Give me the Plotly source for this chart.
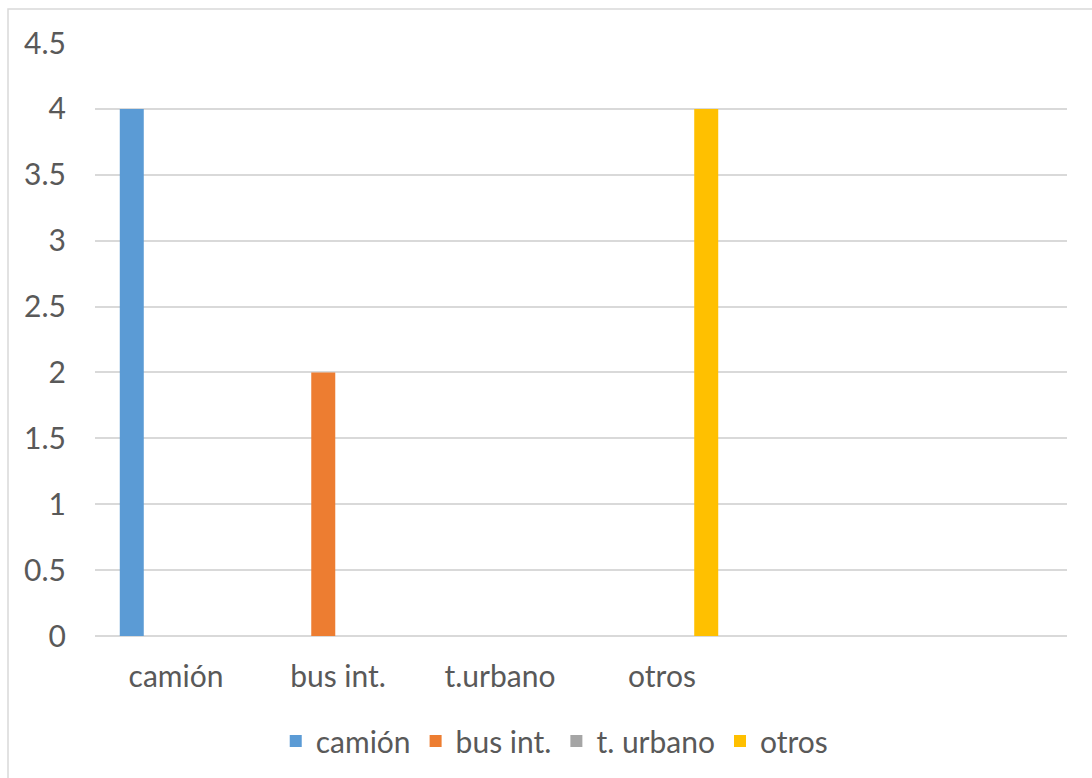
import plotly.graph_objects as go

# Category axis (the last two slots are unlabeled)
categories = ["camión", "bus int.", "t.urbano", "otros", " ", "  "]

# Series values per category
series_names = ["camión", "bus int.", "t. urbano", "otros"]
camion = [4, 0, 0, 0, 0, 0]
bus_int = [0, 2, 0, 0, 0, 0]
t_urbano = [0, 0, 0, 0, 0, 0]
otros = [0, 0, 0, 4, 0, 0]

colors = ["#5B9BD5", "#ED7D31", "#A5A5A5", "#FFC000"]
y_ticks = [0, 0.5, 1, 1.5, 2, 2.5, 3, 3.5, 4, 4.5]
y_tick_text = ["0", "0.5", "1", "1.5", "2", "2.5", "3", "3.5", "4", "4.5"]

FONT = "Lato, 'Open Sans', sans-serif"
TEXT = "#595959"
GRID = "#D9D9D9"
FS = 30

fig = go.Figure()
for name, vals, col in zip(series_names, [camion, bus_int, t_urbano, otros], colors):
    fig.add_trace(go.Bar(x=categories, y=vals, name=name, marker=dict(color=col, line=dict(width=0))))

fig.update_layout(
    width=1092,
    height=778,
    barmode="group",
    bargap=0.272,
    bargroupgap=0.186,
    paper_bgcolor="white",
    plot_bgcolor="white",
    margin=dict(l=95, r=25, t=43, b=142),
    font=dict(family=FONT, size=FS, color=TEXT),
    showlegend=True,
    legend=dict(
        orientation="h",
        xref="container",
        x=0.508,
        xanchor="center",
        yref="container",
        y=1 - 741 / 778,
        yanchor="middle",
        font=dict(family=FONT, size=FS, color=TEXT),
        itemwidth=30,
        traceorder="normal",
    ),
    xaxis=dict(
        type="category",
        categoryorder="array",
        categoryarray=categories,
        showgrid=False,
        showline=False,
        ticks="outside",
        ticklen=14,
        tickcolor="rgba(0,0,0,0)",
        tickfont=dict(family=FONT, size=FS, color=TEXT),
        fixedrange=True,
    ),
    yaxis=dict(
        range=[0, 4.5],
        tickvals=y_ticks,
        ticktext=y_tick_text,
        showgrid=True,
        gridcolor=GRID,
        gridwidth=1.5,
        zeroline=True,
        zerolinecolor=GRID,
        zerolinewidth=1.5,
        showline=False,
        ticks="outside",
        ticklen=22,
        tickcolor="rgba(0,0,0,0)",
        tickfont=dict(family=FONT, size=FS, color=TEXT),
    ),
    shapes=[
        dict(
            type="rect",
            xref="paper",
            yref="paper",
            x0=(8 - 95) / 972,
            x1=1.2,
            y0=-0.4,
            y1=(636 - 9) / 593,
            line=dict(color=GRID, width=1.5),
            fillcolor="rgba(0,0,0,0)",
            layer="below",
        )
    ],
)

fig.write_html("out.html")
